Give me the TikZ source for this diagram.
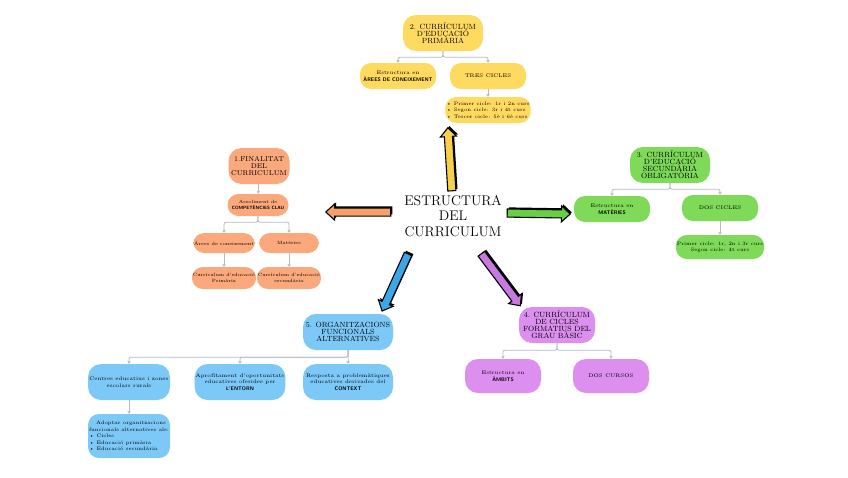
\documentclass[tikz,border=0pt]{standalone}
\usepackage{tikz}
\usetikzlibrary{shapes.arrows,arrows.meta,calc,shadows}
\definecolor{cyel}{RGB}{255,218,96}
\definecolor{cora}{RGB}{250,168,124}
\definecolor{cgrn}{RGB}{126,218,88}
\definecolor{cblu}{RGB}{124,200,247}
\definecolor{cpur}{RGB}{220,143,239}
\definecolor{ayel}{RGB}{247,208,74}
\definecolor{aora}{RGB}{245,160,108}
\definecolor{agrn}{RGB}{104,206,72}
\definecolor{ablu}{RGB}{58,168,232}
\definecolor{apur}{RGB}{200,122,224}
\definecolor{lgray}{RGB}{178,188,200}
\tikzset{
  sec/.style={rounded corners=13pt,align=center,font=\fontsize{7.5}{7}\selectfont,minimum width=80pt,minimum height=36pt,inner sep=1pt},
  sub/.style={rounded corners=11pt,align=center,font=\fontsize{5.2}{6.6}\selectfont,minimum width=76pt,minimum height=26pt,inner sep=1pt},
  conn/.style={draw=lgray,line width=0.8pt,-{Stealth[length=3pt,width=3.5pt]},rounded corners=2pt},
  blk/.style={single arrow,draw=black,line width=1.1pt,minimum width=15pt,single arrow head extend=4pt,
    single arrow tip angle=85,inner xsep=0pt,inner ysep=3.5pt,
    general shadow={fill=black,shadow xshift=1.6pt,shadow yshift=1.6pt}}
}
\newcommand\kw[1]{{\bfseries\sffamily #1}}
% block arrow between two named coordinates
\newcommand\blockarr[3]{%
  \path let \p1=($(#2)-(#1)$), \n1={atan2(\y1,\x1)}, \n2={veclen(\x1,\y1)} in
    node[blk,fill=#3,rotate=\n1,minimum height=\n2] at ($(#1)!0.5!(#2)$) {};
}
\begin{document}
\begin{tikzpicture}[x=1pt,y=-1pt]
\useasboundingbox[fill=white] (0,0) rectangle (848,477);
% centre
\node[align=center,font=\fontsize{14}{15.5}\selectfont] (c) at (453,216) {ESTRUCTURA\\DEL\\CURRICULUM};
\coordinate (yS) at (452,193); \coordinate (yE) at (448,130);
\coordinate (oS) at (393,212); \coordinate (oE) at (328,212);
\coordinate (gS) at (505,213); \coordinate (gE) at (568,214);
\coordinate (bS) at (409,252); \coordinate (bE) at (383,309);
\coordinate (pS) at (480,252); \coordinate (pE) at (519,304);
\blockarr{yS}{yE}{ayel}
\blockarr{oS}{oE}{aora}
\blockarr{gS}{gE}{agrn}
\blockarr{bS}{bE}{ablu}
\blockarr{pS}{pE}{apur}
% 2. primaria
\node[sec,fill=cyel] (p0) at (443,33) {2. CURRÍCULUM\\D'EDUCACIÓ\\PRIMÀRIA};
\node[sub,fill=cyel] (p1) at (398,76) {Estructura en\\\kw{ÀREES DE CONEIXEMENT}};
\node[sub,fill=cyel] (p2) at (488,76) {TRES CICLES};
\node[sub,fill=cyel,align=left,font=\fontsize{5}{6.4}\selectfont] (p3) at (488,110) {\textbullet\ Primer cicle: 1r i 2n curs\\\textbullet\ Segon cicle: 3r i 4t curs\\\textbullet\ Tercer cicle: 5è i 6è curs};
\draw[conn] (p0.south) -- ++(0,6) -| (p1.north);
\draw[conn] (p0.south) -- ++(0,6) -| (p2.north);
\draw[conn] (p2) -- (p3);
% 1. finalitat
\node[sec,fill=cora,minimum width=61pt,font=\fontsize{7}{6.8}\selectfont] (f0) at (259,166) {1.FINALITAT\\DEL\\CURRICULUM};
\node[sub,fill=cora,minimum width=61pt,minimum height=22pt,font=\fontsize{4.6}{6}\selectfont] (f1) at (258,205) {Assoliment de\\\kw{COMPETÈNCIES CLAU}};
\node[sub,fill=cora,minimum width=60pt,minimum height=20pt,font=\fontsize{4.6}{6}\selectfont] (f2) at (224,243) {Àrees de coneixement};
\node[sub,fill=cora,minimum width=60pt,minimum height=20pt,font=\fontsize{4.6}{6}\selectfont] (f3) at (289,243) {Matèries};
\node[sub,fill=cora,minimum width=60pt,minimum height=22pt,font=\fontsize{4.6}{6}\selectfont] (f4) at (224,278) {Currículum d'educació\\Primària};
\node[sub,fill=cora,minimum width=60pt,minimum height=22pt,font=\fontsize{4.6}{6}\selectfont] (f5) at (289,278) {Currículum d'educació\\secundària};
\draw[conn] (f0) -- (f1);
\draw[conn] (f1.south) -- ++(0,6) -| (f2.north);
\draw[conn] (f1.south) -- ++(0,6) -| (f3.north);
\draw[conn] (f2) -- (f4);
\draw[conn] (f3) -- (f5);
% 3. secundaria
\node[sec,fill=cgrn] (s0) at (670,165) {3. CURRÍCULUM\\D'EDUCACIÓ\\SECUNDÀRIA\\OBLIGATÒRIA};
\node[sub,fill=cgrn] (s1) at (612,209) {Estructura en\\\kw{MATÈRIES}};
\node[sub,fill=cgrn] (s2) at (720,208) {DOS CICLES};
\node[sub,fill=cgrn,minimum height=24pt,font=\fontsize{5}{6.4}\selectfont] (s3) at (720,247) {Primer cicle: 1r, 2n i 3r curs\\Segon cicle: 4t curs};
\draw[conn] (s0.south) -- ++(0,6) -| (s1.north);
\draw[conn] (s0.south) -- ++(0,6) -| (s2.north);
\draw[conn] (s2) -- (s3);
% 4. grau basic
\node[sec,fill=cpur,minimum width=76pt] (g0) at (557,325) {4. CURRÍCULUM\\DE CICLES\\FORMATIUS DEL\\GRAU BÀSIC};
\node[sub,fill=cpur,minimum height=34pt,rounded corners=13pt] (g1) at (503,376) {Estructura en\\\kw{ÀMBITS}};
\node[sub,fill=cpur,minimum height=34pt,rounded corners=13pt] (g2) at (611,376) {DOS CURSOS};
\draw[conn] (g0.south) -- ++(0,7) -| (g1.north);
\draw[conn] (g0.south) -- ++(0,7) -| (g2.north);
% 5. organitzacions
\node[sec,fill=cblu,minimum width=90pt] (o0) at (348,332) {5. ORGANITZACIONS\\FUNCIONALS\\ALTERNATIVES};
\node[sub,fill=cblu,minimum width=82pt,minimum height=36pt,rounded corners=13pt] (o1) at (129,382) {Centres educatius i zones\\escolars rurals};
\node[sub,fill=cblu,minimum width=90pt,minimum height=36pt,rounded corners=13pt] (o2) at (240,382) {Aprofitament d'oportunitats\\educatives oferides per\\\kw{L'ENTORN}};
\node[sub,fill=cblu,minimum width=90pt,minimum height=36pt,rounded corners=13pt] (o3) at (348,382) {Resposta a problemàtiques\\educatives derivades del\\\kw{CONTEXT}};
\node[sub,fill=cblu,minimum width=82pt,minimum height=44pt,align=left,font=\fontsize{5}{6.4}\selectfont] (o4) at (129,436) {\ \ \ Adoptar organitzacions\\funcionals alternatives als:\\\textbullet\ Cicles\\\textbullet\ Educació primària\\\textbullet\ Educació secundària};
\draw[conn] (o0.south) -- ++(0,7) -| (o1.north);
\draw[conn] (o0.south) -- ++(0,7) -| (o2.north);
\draw[conn] (o0.south) -- ++(0,7) -| (o3.north);
\draw[conn] (o1) -- (o4);
\end{tikzpicture}
\end{document}
